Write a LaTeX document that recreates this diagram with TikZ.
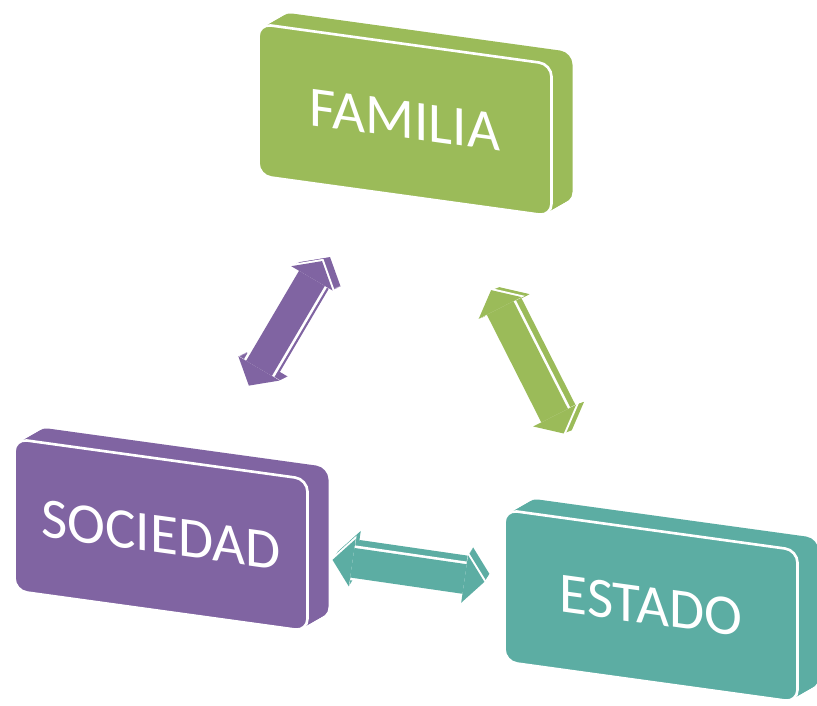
\documentclass[tikz,border=0pt]{standalone}
\usepackage{fontspec}
\setmainfont{Carlito}
\usetikzlibrary{calc,arrows.meta}
\definecolor{famgreen}{RGB}{155,187,89}
\definecolor{socpurple}{RGB}{128,100,162}
\definecolor{estteal}{RGB}{92,173,163}
\tikzset{
  face/.style={rounded corners=0.25cm, minimum width=5.86cm, minimum height=3.04cm, inner sep=0pt,
    yslant=-0.138, draw=white, line width=1.5pt, text=white, font=\fontsize{32.5}{38}\selectfont},
  link/.style={line width=17pt, >={Triangle[length=4mm,width=9.6mm,line width=0pt]}, <->},
  linkedge/.style={white, line width=20pt, shorten <=-1.5pt, shorten >=-1.5pt,
    >={Triangle[length=4.6mm,width=11mm,line width=0pt]}, <->},
}
\begin{document}
\begin{tikzpicture}
	\useasboundingbox (0,0) rectangle (16.34,-14.10);
	
	% thickness of the blocks
	\foreach \c/\col in {{8.10,-2.40}/famgreen, {3.22,-10.70}/socpurple, {13.02,-12.12}/estteal}
	  \foreach \k in {0.1,0.2,...,1}
	    \fill[\col, shift={(\c)}, shift={(\k*0.42,\k*0.24)}, yslant=-0.138, rounded corners=0.25cm] (-2.93,-1.52) rectangle (2.93,1.52);
	
	\node[face, fill=famgreen] (familia) at (8.10,-2.40) {FAMILIA};
	
	\node[face, fill=socpurple] (sociedad) at (3.22,-10.70) {SOCIEDAD};
	
	\node[face, fill=estteal] (estado) at (13.02,-12.12) {ESTADO};
	
	\coordinate (sf1) at ($(sociedad)!0.36!(familia)$);
	\coordinate (sf2) at ($(sociedad)!0.66!(familia)$);
	\coordinate (fe1) at ($(familia)!0.35!(estado)$);
	\coordinate (fe2) at ($(familia)!0.645!(estado)$);
	\coordinate (se1) at ($(sociedad)!0.35!(estado)$);
	\coordinate (se2) at ($(sociedad)!0.66!(estado)$);
	
	% double arrows with their thickness
	\foreach \a/\b/\col/\dx/\dy in {sf1/sf2/socpurple/0.16/0.08, fe1/fe2/famgreen/0.16/0.06, se1/se2/estteal/0.10/0.16}{
	  \foreach \k in {0.1,0.2,...,1}
	    \draw[link, \col] ($(\a)+(\k*\dx,\k*\dy)$) -- ($(\b)+(\k*\dx,\k*\dy)$);
	  \draw[linkedge] (\a) -- (\b);
	  \draw[link, \col] (\a) -- (\b);
	}
	
\end{tikzpicture}
\end{document}
